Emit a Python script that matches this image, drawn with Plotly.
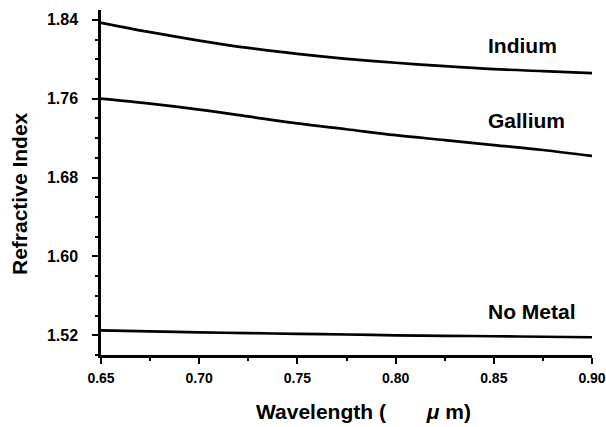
import plotly.graph_objects as go

wavelength = [0.65, 0.675, 0.70, 0.725, 0.75, 0.775, 0.80, 0.825, 0.85, 0.875, 0.90]
indium = [1.837, 1.8275, 1.819, 1.8115, 1.8055, 1.8005, 1.7965, 1.793, 1.790, 1.788, 1.786]
gallium = [1.760, 1.755, 1.749, 1.742, 1.735, 1.729, 1.723, 1.718, 1.713, 1.708, 1.702]
no_metal = [1.525, 1.524, 1.523, 1.5222, 1.5215, 1.5208, 1.520, 1.5195, 1.519, 1.5185, 1.518]

series_names = ["Indium", "Gallium", "No Metal"]
label_x = [0.846, 0.846, 0.846]
label_y = [1.814, 1.7376, 1.5437]

x_ticks = [0.65, 0.70, 0.75, 0.80, 0.85, 0.90]
y_ticks = [1.52, 1.60, 1.68, 1.76, 1.84]

FONT = "Liberation Sans, Arial, sans-serif"

fig = go.Figure()
for name, ys in zip(series_names, [indium, gallium, no_metal]):
    fig.add_trace(go.Scatter(x=wavelength, y=ys, mode="lines", name=name,
                             line=dict(color="black", width=2.7, shape="spline"),
                             showlegend=False))

for name, lx, ly in zip(series_names, label_x, label_y):
    fig.add_annotation(x=lx, y=ly, xref="x", yref="y", text=name, showarrow=False,
                       xanchor="left", yanchor="middle",
                       font=dict(family=FONT, size=21, color="black", weight="bold"))

fig.add_annotation(x=(254 - 101) / 491, y=(355 - 411) / 345, xref="paper", yref="paper",
                   text="Wavelength (" + "\u00a0" * 7 + "<i>\u03bc</i>\u00a0m)", showarrow=False,
                   xanchor="left", yanchor="middle",
                   font=dict(family=FONT, size=21, color="black", weight="bold"))
fig.add_annotation(x=-(101 - 19) / 491, y=(355 - 194) / 345, xref="paper", yref="paper",
                   text="Refractive Index", showarrow=False, textangle=-90,
                   xanchor="center", yanchor="middle",
                   font=dict(family=FONT, size=21, color="black", weight="bold"))

fig.update_layout(
    width=606, height=427,
    margin=dict(l=101, r=14, t=10, b=72),
    paper_bgcolor="white", plot_bgcolor="white",
    font=dict(family=FONT, color="black"),
)
fig.update_xaxes(range=[0.65, 0.90], tickvals=x_ticks, ticktext=[f"{v:.2f}" for v in x_ticks],
                 showgrid=False, zeroline=False, showline=True, linecolor="black", linewidth=2.5,
                 ticks="outside", ticklen=6, tickwidth=2, tickcolor="black",
                 minor=dict(dtick=0.025, tick0=0.65, ticks="outside", ticklen=3, tickwidth=2, tickcolor="black"),
                 tickfont=dict(family=FONT, size=14, color="black", weight="bold"),
                 ticklabelstandoff=2, ticklabeloverflow="allow", automargin=False)
fig.update_yaxes(range=[1.50, 1.85], tickvals=y_ticks, ticktext=[f"{v:.2f}" for v in y_ticks],
                 showgrid=False, zeroline=False, showline=True, linecolor="black", linewidth=2.5,
                 ticks="outside", ticklen=6, tickwidth=2, tickcolor="black",
                 minor=dict(dtick=0.02, tick0=1.50, ticks="outside", ticklen=3, tickwidth=2, tickcolor="black"),
                 tickfont=dict(family=FONT, size=16, color="black", weight="bold"),
                 ticklabelstandoff=11, automargin=False)

fig.write_html("out.html")
